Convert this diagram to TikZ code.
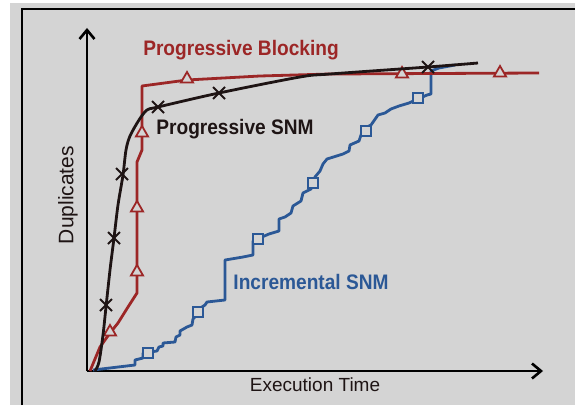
\documentclass[tikz,border=0pt]{standalone}
\usepackage{fontspec}
\setmainfont{Liberation Sans}
\newfontfamily\curvefont{Liberation Sans}[FakeStretch=0.91]
\usetikzlibrary{arrows.meta,shapes.geometric,shapes.misc}
\definecolor{panelbg}{HTML}{D4D4D4}
\definecolor{blockred}{HTML}{9C2626}
\definecolor{snmblack}{HTML}{1E1414}
\definecolor{incblue}{HTML}{2B5896}

\begin{document}
\begin{tikzpicture}[x=1pt,y=1pt,
  curve/.style={line width=2.8pt, line join=round},
  tri/.style={regular polygon, regular polygon sides=3, draw=blockred, fill=panelbg, line width=1.8pt, minimum size=14pt, inner sep=0pt},
  xmark/.style={cross out, draw=snmblack, line width=2pt, minimum size=10pt, inner sep=0pt},
  sq/.style={rectangle, draw=incblue, fill=panelbg, line width=2pt, minimum size=10pt, inner sep=0pt},
  curvelabel/.style={font=\curvefont\bfseries\fontsize{21}{24}\selectfont}]
  \useasboundingbox (-87,-34) rectangle (488,371);
  \fill[white] (-87,-34) rectangle (488,371);
  \fill[panelbg] (-77,-34) rectangle (488,368);
  \draw[line width=2pt] (-65,-34) -- (-65,362) -- (488,362);
  % axes
  \coordinate (O) at (0,0);
  \coordinate (xend) at (456,0);
  \coordinate (yend) at (0,343);
  \draw[line width=2.6pt, -{Straight Barb[length=9pt,width=15pt]}] (O) -- (xend);
  \draw[line width=2.6pt, -{Straight Barb[length=9pt,width=15pt]}] (O) -- (yend);
  \node[font=\fontsize{19}{22}\selectfont, text=snmblack] (xlab) at (228,-14) {Execution Time};
  \node[font=\fontsize{21}{24}\selectfont, text=snmblack, rotate=90] (ylab) at (-19,176) {Duplicates};
  % incremental SNM (stairs)
  \draw[curve, incblue] (6,1) -- (48,6) -- (48,11) -- (56,13) -- (56,18) -- (70,20) -- (72,24)
    -- (76,25) -- (76,28) -- (88,29) -- (89,34) -- (93,36) -- (93,40) -- (100,44) -- (105,46)
    -- (106,52) -- (110,56) -- (112,62) -- (118,66) -- (120,69) -- (138,71) -- (138,111)
    -- (156,114) -- (166,116) -- (166,130) -- (175,134) -- (182,137) -- (192,140) -- (192,152)
    -- (198,154) -- (204,158) -- (206,165) -- (214,170) -- (216,178) -- (224,182) -- (228,194)
    -- (233,200) -- (236,207) -- (240,212) -- (256,217) -- (262,220) -- (263,226) -- (272,230)
    -- (276,242) -- (284,246) -- (291,256) -- (298,258) -- (304,262) -- (312,265) -- (322,268)
    -- (331,272) -- (340,276) -- (344,277) -- (344,300) -- (352,303) -- (368,306);
  \foreach \p [count=\i] in {(61,18),(111,59),(171,132),(226,188),(279,240),(331,273)}
    \node[sq] (inc\i) at \p {};
  % progressive blocking
  \draw[curve, blockred] (3,0) -- (13,24) -- (23,38) -- (31,48) -- (41,64) -- (50,78) -- (50,209)
    -- (55,221) -- (55,285) -- (100,291) -- (173,295) -- (243,297) -- (452,298);
  \foreach \p [count=\i] in {(23,39),(50,99),(50,163),(55,238),(100,292),(315,297),(413,298)}
    \node[tri] (pb\i) at \p {};
  % progressive SNM
  \draw[curve, snmblack] plot[smooth, tension=0.5] coordinates {(8,0) (12,9) (16,36) (19,64) (23,101)
    (27,133) (31,166) (36,196) (39,221) (43,235) (52,251) (60,261) (71,264) (132,278) (213,294)
    (243,297) (341,304) (391,308)};
  \foreach \p [count=\i] in {(19,66),(27,133),(35,197),(71,264),(132,278),(341,304)}
    \node[xmark] (ps\i) at \p {};
  % curve names
  \node[curvelabel, text=blockred] (pblab) at (154,321) {Progressive Blocking};
  \node[curvelabel, text=snmblack] (pslab) at (148,242) {Progressive SNM};
  \node[curvelabel, text=incblue] (inclab) at (224,89) {Incremental SNM};
\end{tikzpicture}
\end{document}
